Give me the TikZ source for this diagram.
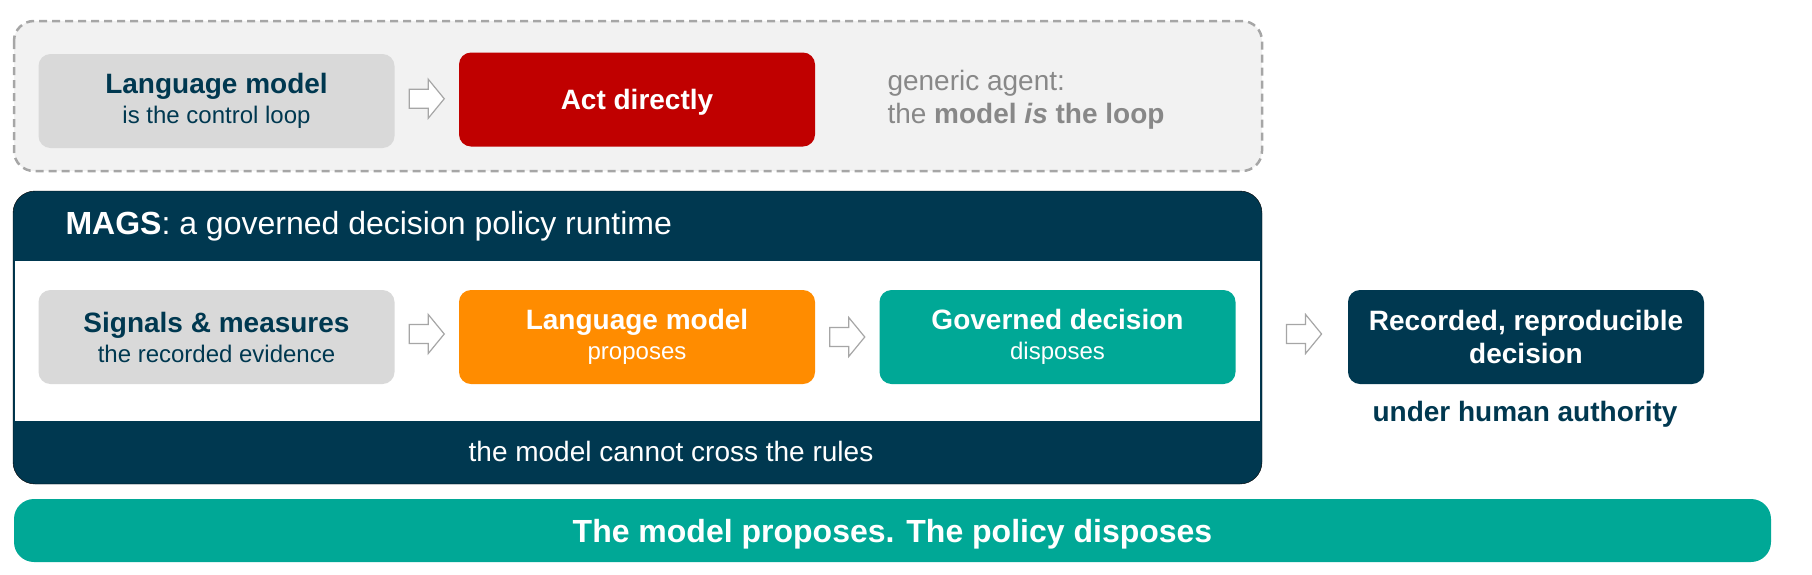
\documentclass[tikz,border=0pt]{standalone}
\usepackage{fontspec}
\setmainfont{Liberation Sans}
\usetikzlibrary{calc}
\definecolor{navy}{RGB}{0,56,80}
\definecolor{lgray}{RGB}{217,217,217}
\definecolor{dred}{RGB}{192,0,0}
\definecolor{orng}{RGB}{255,140,0}
\definecolor{tealc}{RGB}{0,168,150}
\definecolor{panel}{RGB}{242,242,242}
\definecolor{dashc}{RGB}{166,166,166}
\definecolor{txtgray}{RGB}{136,136,136}
\newcommand\boxsub{\fontsize{24}{30}\selectfont\mdseries}
\tikzset{
  box/.style={rounded corners=12pt, minimum width=356pt, minimum height=94pt, align=center, inner sep=0pt,
    font=\fontsize{28}{30}\selectfont\bfseries},
  blockarr/.pic={\draw[draw=dashc, fill=white, line width=1.2pt, line join=miter]
    (-17.5,-9.5) -- (1.5,-9.5) -- (1.5,-19.5) -- (17.5,0) -- (1.5,19.5) -- (1.5,9.5) -- (-17.5,9.5) -- cycle;},
}
\begin{document}
\begin{tikzpicture}[x=1pt,y=-1pt]
\useasboundingbox (0,0) rectangle (1812,574);
% top dashed panel
\draw[fill=panel, draw=dashc, line width=2.5pt, dash pattern=on 8pt off 5pt, rounded corners=20pt] (14,21) rectangle (1262,171);
\node[box, fill=lgray, text=navy, yshift=-1.5pt] (lm) at (216.5,99.5) {Language model\\\boxsub is the control loop};
\node[box, fill=dred, text=white, text depth=0pt] (act) at (637,99.5) {Act directly};
\pic at ($(lm.east)!0.5!(act.west)+(0,-1.5)$) {blockarr};
\node[anchor=west, text=txtgray, align=left, font=\fontsize{28}{33}\selectfont] (gen) at (884,100) {generic agent:\\the \textbf{model \textit{is} the loop}};
% MAGS panel
\draw[fill=navy, rounded corners=22pt] (13,191) rectangle (1262,484);
\fill[white] (15,261) rectangle (1260,421);
\node[anchor=base west, text=white, font=\fontsize{32}{36}\selectfont] (title) at (62,234) {\textbf{MAGS}: a governed decision policy runtime};
\node[anchor=base, text=white, font=\fontsize{28}{32}\selectfont] (rules) at (671,461) {the model cannot cross the rules};
\node[box, fill=lgray, text=navy] (sig) at (216.5,337) {Signals \& measures\\\boxsub the recorded evidence};
\node[box, fill=orng, text=white] (lmp) at (637,337) {Language model\\\boxsub proposes};
\node[box, fill=tealc, text=white] (gov) at (1057.5,337) {Governed decision\\\boxsub disposes};
\node[box, fill=navy, text=white, font=\fontsize{28}{33}\selectfont\bfseries] (rec) at (1526,337) {Recorded, reproducible\\decision};
\pic at ($(sig.east)!0.5!(lmp.west)+(0,-3)$) {blockarr};
\pic at ($(lmp.east)!0.5!(gov.west)+(0,0)$) {blockarr};
\pic at ($(gov.east)!0.61!(rec.west)+(0,-3)$) {blockarr};
\node[anchor=base, text=navy, font=\fontsize{28}{32}\selectfont\bfseries] (auth) at (1525,421) {under human authority};
% bottom bar
\node[fill=tealc, rounded corners=20pt, minimum width=1757pt, minimum height=63pt, inner sep=0pt, text depth=0pt, text=white, font=\fontsize{32}{36}\selectfont\bfseries] (motto) at (892.5,530.5) {The model proposes. The policy disposes};
\end{tikzpicture}
\end{document}
